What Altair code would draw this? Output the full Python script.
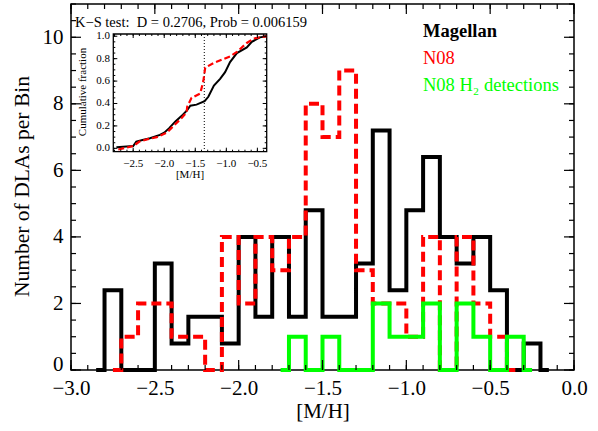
import altair as alt
import pandas as pd

# ---------------- data ----------------
# Magellan histogram (step edges, value of the bin starting at each edge)
mag_x = [-2.85, -2.8, -2.7, -2.6, -2.5, -2.4, -2.3, -2.2, -2.1, -2.0, -1.9, -1.8, -1.7,
         -1.6, -1.5, -1.4, -1.3, -1.2, -1.1, -1.0, -0.9, -0.8, -0.7, -0.6, -0.5, -0.4,
         -0.3, -0.2, -0.15]
mag_y = [0, 2.4, 0, 0, 3.2, 0.8, 1.6, 1.6, 0.8, 4.0, 1.6, 4.0, 1.6,
         4.8, 1.6, 1.6, 3.2, 7.2, 2.4, 4.8, 6.4, 4.0, 3.2, 4.0, 2.4, 0,
         0.8, 0, 0]

# N08 histogram
n08_x = [-2.75, -2.7, -2.6, -2.5, -2.4, -2.3, -2.2, -2.1, -2.0, -1.9, -1.8, -1.7, -1.6,
         -1.5, -1.4, -1.3, -1.2, -1.1, -1.0, -0.9, -0.8, -0.7, -0.6, -0.5, -0.4, -0.35]
n08_y = [0, 1, 2, 2, 1, 1, 0, 4, 2, 4, 3, 4, 8,
         7, 9, 3, 2, 2, 1, 4, 0, 4, 2, 1, 0, 0]

# N08 H2 detections histogram
h2_x = [-1.75, -1.7, -1.6, -1.5, -1.4, -1.3, -1.2, -1.1, -1.0, -0.9, -0.8, -0.7, -0.6,
        -0.5, -0.4, -0.3, -0.25]
h2_y = [0, 1, 0, 1, 0, 0, 2, 1, 1, 2, 0, 2, 1, 0, 1, 0, 0]

# Inset cumulative fractions
cum_mag_x = [-2.77, -2.50, -2.45, -2.35, -2.23, -2.07, -2.00, -1.92, -1.82, -1.70, -1.63,
             -1.58, -1.48, -1.35, -1.29, -1.20, -1.10, -1.02, -0.94, -0.83, -0.67, -0.59,
             -0.46, -0.35]
cum_mag_y = [0.01, 0.02, 0.06, 0.075, 0.09, 0.12, 0.14, 0.18, 0.24, 0.30, 0.34,
             0.38, 0.39, 0.42, 0.46, 0.56, 0.62, 0.68, 0.77, 0.85, 0.90, 0.95,
             0.99, 1.0]
cum_n08_x = [-2.74, -2.50, -2.40, -2.28, -2.12, -1.96, -1.85, -1.72, -1.64, -1.63, -1.56,
             -1.42, -1.37, -1.34, -1.21, -0.94, -0.83, -0.67, -0.56, -0.35]
cum_n08_y = [-0.01, 0.02, 0.06, 0.08, 0.10, 0.14, 0.20, 0.27, 0.32, 0.37, 0.45,
             0.49, 0.60, 0.72, 0.76, 0.82, 0.86, 0.94, 0.98, 1.0]
ks_x = [-1.355]

# tick values
main_x_major = [-3.0, -2.5, -2.0, -1.5, -1.0, -0.5, 0.0]
main_x_minor = [round(-3.0 + 0.1 * i, 1) for i in range(31)]
main_y_major = [0, 2, 4, 6, 8, 10]
main_y_minor = [0.5 * i for i in range(23)]
ins_x_major = [-2.5, -2.0, -1.5, -1.0, -0.5]
ins_x_minor = [round(-2.8 + 0.1 * i, 1) for i in range(25)]
ins_y_major = [0.0, 0.2, 0.4, 0.6, 0.8, 1.0]
ins_y_minor = [round(0.05 * i, 2) for i in range(21)]

ks_label = ["K\u2212S test:\u00a0\u00a0D = 0.2706, Prob = 0.006159"]
legend_labels = ["Magellan", "N08", "N08 H\u2082 detections"]

FONT = "Liberation Serif"
W, H = 503, 366
BLACK, RED, GREEN = "#000000", "#ff0000", "#00ff00"

# ---------------- scales ----------------
def xs():
    return alt.Scale(domain=[-3.0, 0.0], nice=False, zero=False)


def ys():
    return alt.Scale(domain=[0, 11], nice=False, zero=False)


IX0, IX1, IY0, IY1 = 42.3, 195.7, 147.7, 30.0


def ixs():
    return alt.Scale(domain=[-2.82, -0.35], range=[IX0, IX1], nice=False, zero=False)


def iys():
    return alt.Scale(domain=[-0.03, 1.02], range=[IY0, IY1], nice=False, zero=False)


x_axis = alt.Axis(values=main_x_major, format=".1f", ticks=False, tickSize=0, domain=False,
                  grid=False, labelFont=FONT, labelFontSize=21, labelPadding=7,
                  labelColor="black", labelOverlap=False, labelFlush=False, labelBound=False,
                  title="[M/H]", titleFont=FONT, titleFontSize=21, titleFontWeight="normal",
                  titleColor="black", titleY=41, titleBaseline="middle")
y_axis = alt.Axis(values=main_y_major, format="d", ticks=False, tickSize=0, domain=False,
                  grid=False, labelFont=FONT, labelFontSize=21, labelPadding=8,
                  labelColor="black", labelOverlap=False, labelFlush=False, labelBound=False,
                  labelBaseline={"condition": {"test": "datum.value == 0",
                                               "value": "alphabetic"},
                                 "value": "middle"},
                  title="Number of DLAs per Bin", titleFont=FONT, titleFontSize=21.5,
                  titleFontWeight="normal", titleColor="black", titleX=-49, titleY=182,
                  titleAngle=270, titleBaseline="middle", titleAlign="center")

# ---------------- main histograms ----------------
mag_df = pd.DataFrame({"x": mag_x, "y": mag_y})
n08_df = pd.DataFrame({"x": n08_x, "y": n08_y})
h2_df = pd.DataFrame({"x": h2_x, "y": h2_y})

mag_line = alt.Chart(mag_df).mark_line(interpolate="step-after", color=BLACK, strokeWidth=4,
                                       clip=False).encode(
    x=alt.X("x:Q", scale=xs(), axis=x_axis), y=alt.Y("y:Q", scale=ys(), axis=y_axis))
n08_line = alt.Chart(n08_df).mark_line(interpolate="step-after", color=RED, strokeWidth=4,
                                       strokeDash=[10, 5], clip=False).encode(
    x=alt.X("x:Q", scale=xs(), axis=None), y=alt.Y("y:Q", scale=ys(), axis=None))
h2_line = alt.Chart(h2_df).mark_line(interpolate="step-after", color=GREEN, strokeWidth=4,
                                     clip=False).encode(
    x=alt.X("x:Q", scale=xs(), axis=None), y=alt.Y("y:Q", scale=ys(), axis=None))


def xticks(vals, y0, y1, scale, width=1.2):
    return alt.Chart(pd.DataFrame({"x": vals})).mark_rule(color="black", strokeWidth=width).encode(
        x=alt.X("x:Q", scale=scale, axis=None), y=alt.value(y0), y2=alt.value(y1))


def yticks(vals, x0, x1, scale, width=1.2):
    return alt.Chart(pd.DataFrame({"y": vals})).mark_rule(color="black", strokeWidth=width).encode(
        y=alt.Y("y:Q", scale=scale, axis=None), x=alt.value(x0), x2=alt.value(x1))


main_ticks = [
    xticks(main_x_major, H, H - 10, xs()), xticks(main_x_minor, H, H - 5, xs()),
    xticks(main_x_major, 0, 10, xs()), xticks(main_x_minor, 0, 5, xs()),
    yticks(main_y_major, 0, 10, ys()), yticks(main_y_minor, 0, 5, ys()),
    yticks(main_y_major, W, W - 10, ys()), yticks(main_y_minor, W, W - 5, ys()),
]

ks_text = alt.Chart(pd.DataFrame({"t": ks_label})).mark_text(
    font=FONT, fontSize=14.5, align="left", baseline="alphabetic", color="black").encode(
    text="t:N", x=alt.value(4), y=alt.value(23))

legend_colors = [BLACK, RED, GREEN]
legend_weights = ["bold", "normal", "normal"]
legend_ys = [33, 60, 86.5]
legend = []
for lab, col, wt, yy in zip(legend_labels, legend_colors, legend_weights, legend_ys):
    legend.append(alt.Chart(pd.DataFrame({"t": [lab]})).mark_text(
        font=FONT, fontSize=18.5, align="left", baseline="alphabetic",
        color=col, fontWeight=wt).encode(text="t:N", x=alt.value(352), y=alt.value(yy)))

# ---------------- inset ----------------
frame = alt.Chart(pd.DataFrame({"a": [0]})).mark_rect(
    fillOpacity=0, stroke="black", strokeWidth=1.3).encode(
    x=alt.value(IX0), x2=alt.value(IX1), y=alt.value(IY1), y2=alt.value(IY0))

cm_df = pd.DataFrame({"x": cum_mag_x, "y": cum_mag_y})
cn_df = pd.DataFrame({"x": cum_n08_x, "y": cum_n08_y})
cm_line = alt.Chart(cm_df).mark_line(color=BLACK, strokeWidth=2).encode(
    x=alt.X("x:Q", scale=ixs(), axis=None), y=alt.Y("y:Q", scale=iys(), axis=None))
cn_line = alt.Chart(cn_df).mark_line(color=RED, strokeWidth=2.2, strokeDash=[6, 3]).encode(
    x=alt.X("x:Q", scale=ixs(), axis=None), y=alt.Y("y:Q", scale=iys(), axis=None))
ks_line = alt.Chart(pd.DataFrame({"x": ks_x})).mark_rule(color="black", strokeWidth=1,
                                                         strokeDash=[1, 2]).encode(
    x=alt.X("x:Q", scale=ixs(), axis=None), y=alt.value(IY1), y2=alt.value(IY0))

ins_ticks = [
    xticks(ins_x_major, IY0, IY0 - 4, ixs(), 1), xticks(ins_x_minor, IY0, IY0 - 2, ixs(), 1),
    xticks(ins_x_major, IY1, IY1 + 4, ixs(), 1), xticks(ins_x_minor, IY1, IY1 + 2, ixs(), 1),
    yticks(ins_y_major, IX0, IX0 + 4, iys(), 1), yticks(ins_y_minor, IX0, IX0 + 2, iys(), 1),
    yticks(ins_y_major, IX1, IX1 - 4, iys(), 1), yticks(ins_y_minor, IX1, IX1 - 2, iys(), 1),
]

ix_labels = alt.Chart(pd.DataFrame({"x": ins_x_major})).mark_text(
    font=FONT, fontSize=11, align="center", baseline="alphabetic", color="black").encode(
    x=alt.X("x:Q", scale=ixs(), axis=None), y=alt.value(163),
    text=alt.Text("x:Q", format=".1f"))
iy_labels = alt.Chart(pd.DataFrame({"y": ins_y_major})).mark_text(
    font=FONT, fontSize=11, align="right", baseline="middle", color="black").encode(
    y=alt.Y("y:Q", scale=iys(), axis=None), x=alt.value(39),
    text=alt.Text("y:Q", format=".1f"))
ix_title = alt.Chart(pd.DataFrame({"t": ["[M/H]"]})).mark_text(
    font=FONT, fontSize=11, align="center", baseline="middle", color="black").encode(
    text="t:N", x=alt.value(119), y=alt.value(171))
iy_title = alt.Chart(pd.DataFrame({"t": ["Cumulative fraction"]})).mark_text(
    font=FONT, fontSize=11, align="center", baseline="middle", angle=270, color="black").encode(
    text="t:N", x=alt.value(12), y=alt.value(88))

layers = [mag_line, n08_line, h2_line, *main_ticks, ks_text, *legend,
          frame, ks_line, cm_line, cn_line, *ins_ticks, ix_labels, iy_labels,
          ix_title, iy_title]

chart = alt.layer(*layers).resolve_scale(x="independent", y="independent").properties(
    width=W, height=H, autosize="none",
    padding={"left": 71, "top": 4, "right": 24, "bottom": 61},
    background="white",
).configure_view(stroke="black", strokeWidth=1.5)

chart.save("out.html", embed_options={"renderer": "svg", "actions": False})
